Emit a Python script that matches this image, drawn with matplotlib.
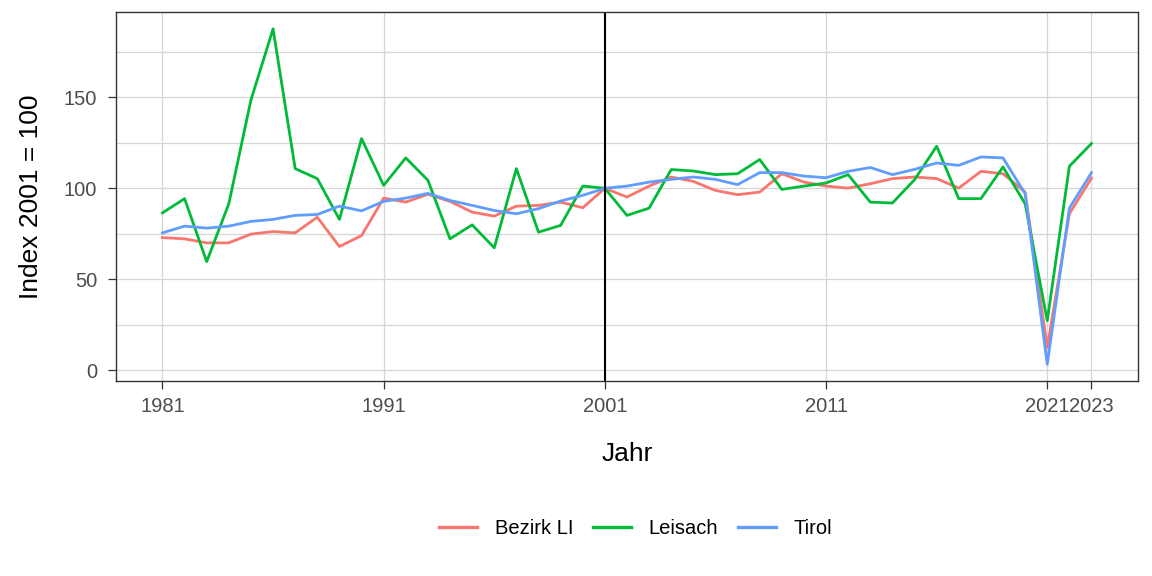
import numpy as np
import matplotlib
matplotlib.use('Agg')
import matplotlib.pyplot as plt
from matplotlib.ticker import MultipleLocator

plt.rcParams['font.family'] = ['Liberation Sans', 'DejaVu Sans']

YEARS = list(range(1981, 2024))
BEZIRK_LI = [72.9, 72.2, 70.0, 70.0, 74.8, 76.2, 75.5, 84.1, 68.0, 74.0,
             94.6, 92.4, 96.7, 92.8, 86.9, 84.7, 90.2, 90.6, 92.4, 89.3,
             100.0, 95.2, 101.2, 106.2, 103.8, 98.8, 96.5, 97.9, 108.0, 103.4,
             101.2, 100.1, 102.5, 105.3, 106.2, 105.3, 100.1, 109.3, 108.0, 97.9,
             12.5, 86.0, 105.6]
LEISACH = [86.5, 94.3, 59.7, 91.5, 148.5, 187.6, 110.8, 105.3, 82.9, 127.3,
           101.6, 116.7, 104.4, 72.2, 79.9, 67.3, 110.8, 75.9, 79.6, 101.2,
           100.0, 85.1, 89.1, 110.3, 109.5, 107.5, 108.0, 115.8, 99.4, 101.2,
           102.9, 107.5, 92.4, 91.9, 104.7, 123.1, 94.3, 94.3, 111.7, 91.5,
           27.2, 112.1, 124.6]
TIROL = [75.5, 79.2, 78.1, 79.2, 81.8, 82.9, 85.1, 85.6, 90.2, 87.6,
         92.8, 94.6, 97.2, 93.3, 90.6, 87.8, 86.0, 88.8, 93.0, 96.1,
         100.0, 101.2, 103.4, 104.9, 106.2, 104.9, 102.0, 108.6, 108.6, 106.7,
         105.8, 109.3, 111.4, 107.5, 110.4, 113.9, 112.6, 117.2, 116.7, 97.0,
         3.3, 89.1, 108.6]
SERIES = ['Bezirk LI', 'Leisach', 'Tirol']
X_BREAKS = [1981, 1991, 2001, 2011, 2021, 2023]
Y_BREAKS = [0, 50, 100, 150]
BASE_YEAR = 2001

COLORS = ['#F8766D', '#00BA38', '#619CFF']
GRID = '#d6d6d6'
DARK = '#333333'

fig = plt.figure(figsize=(11.52, 5.76), dpi=100)
ax = fig.add_axes([0.1007, 0.3385, 0.8871, 0.6405])

ax.set_axisbelow(True)
for name, vals, col in zip(SERIES, [BEZIRK_LI, LEISACH, TIROL], COLORS):
    ax.plot(YEARS, vals, color=col, lw=2.0, label=name)
ax.axvline(BASE_YEAR, color='black', lw=1.5)

# ggplot-like 5% expansion
allv = np.concatenate([BEZIRK_LI, LEISACH, TIROL])
ymin, ymax = allv.min(), allv.max()
ypad = (ymax - ymin) * 0.05
ax.set_ylim(ymin - ypad, ymax + ypad)
xpad = (YEARS[-1] - YEARS[0]) * 0.05
ax.set_xlim(YEARS[0] - xpad, YEARS[-1] + xpad)

ax.set_xticks(X_BREAKS)
ax.set_xticklabels([str(y) for y in X_BREAKS])
ax.set_yticks(Y_BREAKS)
ax.yaxis.set_minor_locator(MultipleLocator(25))
ax.grid(True, which='major', color=GRID, lw=0.9)
ax.grid(True, which='minor', axis='y', color=GRID, lw=0.9)
ax.tick_params(which='minor', length=0)
ax.tick_params(which='major', length=5.5, width=0.9, color=DARK,
               labelsize=14.5, labelcolor='#4d4d4d')
ax.tick_params(axis='x', pad=6)
ax.tick_params(axis='y', pad=8)
for s in ax.spines.values():
    s.set_color(DARK)
    s.set_linewidth(1.0)

ax.set_xlabel('Jahr', fontsize=19, labelpad=19)
ax.set_ylabel('Index 2001 = 100', fontsize=19, labelpad=15)

leg = fig.legend(loc='center', bbox_to_anchor=(0.552, 0.083), ncol=3,
                 frameon=False, fontsize=14.5, handlelength=1.85,
                 handletextpad=0.9, columnspacing=1.0)
for h in leg.legend_handles:
    h.set_linewidth(2.4)

fig.savefig('out.png', dpi=100)
